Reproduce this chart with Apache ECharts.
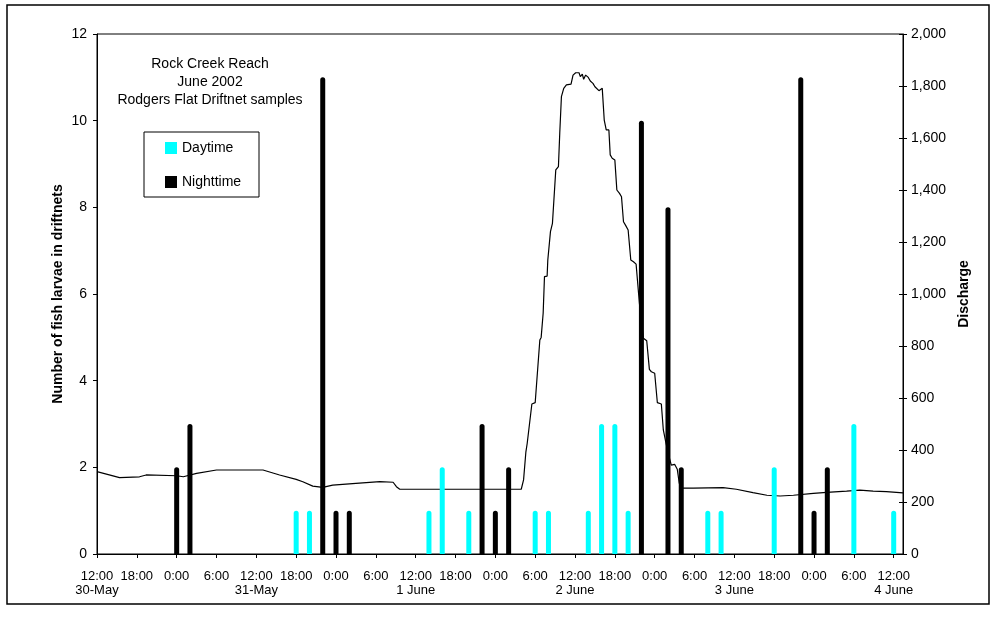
<!DOCTYPE html>
<html>
<head>
<meta charset="utf-8">
<script src="https://cdn.jsdelivr.net/npm/echarts@6/dist/echarts.min.js"></script>
<style>
  html, body { margin: 0; padding: 0; background: #fff; }
  #chart { width: 997px; height: 626px; }
</style>
</head>
<body>
<div id="chart"></div>
<script>
// Hours counted from 30 May 2002, 12:00
const dayHours = [30, 32, 50, 52, 56, 66, 68, 74, 76, 78, 80, 92, 94, 102, 114, 120];
const dayCounts = [1, 1, 1, 2, 1, 1, 1, 1, 3, 3, 1, 1, 1, 2, 3, 1];

const nightHours = [12, 14, 34, 36, 38, 58, 60, 62, 82, 86, 88, 106, 108, 110];
const nightCounts = [2, 3, 11, 1, 1, 3, 1, 2, 10, 8, 2, 11, 1, 2];

// Discharge record
const flowHours = [0, 3.4, 6.4, 7.4, 12, 13, 15, 18, 25, 27.5, 30, 31, 32.5, 34, 35.5, 39, 42.6, 44.6, 45.1, 45.6,
  63.9, 64.25, 64.6, 64.8, 65.1, 65.5, 66.0, 66.3, 66.7, 66.9, 67.2, 67.4, 67.8, 67.9, 68.3, 68.6, 69.1, 69.5, 69.7, 69.95,
  70.3, 70.7, 71.4, 71.7, 72.1, 72.3, 72.6, 72.8, 73.1, 73.3, 73.6, 74.0, 74.3, 74.7, 75.0, 75.3, 75.6, 75.8, 76.1, 76.4,
  76.7, 77.1, 77.3, 77.6, 78.0, 78.3, 78.7, 79.0, 79.3, 79.6, 80.0, 80.4, 80.8, 81.2, 81.4, 81.7, 82.3, 82.8, 83.2, 83.5,
  84.0, 84.4, 85.0, 85.3, 85.7, 86.1, 86.5, 87.0, 87.4, 87.7, 88.1, 89.8, 94.3, 96.3, 98.8, 100.9, 102.9, 104.9, 107.9,
  109.9, 112.9, 114.9, 116.9, 118.9, 121.4];
const flowValues = [317, 294, 297, 304, 301, 297, 310, 323, 323, 304, 287, 278, 261, 256, 265, 272, 278, 276, 259, 249,
  249, 285, 393, 426, 432, 577, 582, 586, 823, 833, 926, 1067, 1069, 1131, 1240, 1272, 1477, 1490, 1618, 1759,
  1791, 1804, 1807, 1842, 1851, 1846, 1851, 1836, 1846, 1826, 1842, 1833, 1819, 1810, 1797, 1800, 1782, 1787, 1791, 1669,
  1631, 1631, 1535, 1522, 1515, 1400, 1387, 1374, 1278, 1265, 1246, 1131, 1124, 1115, 1054, 964, 830, 820, 710, 701,
  695, 582, 577, 477, 426, 380, 342, 345, 326, 272, 253, 253, 255, 249, 236, 226, 223, 226, 233,
  237, 242, 246, 242, 240, 235];

// Axis tick labels, one per 6-hour step
const xTickLabels = ['12:00\n30-May', '18:00', '0:00', '6:00', '12:00\n31-May', '18:00', '0:00', '6:00',
  '12:00\n1 June', '18:00', '0:00', '6:00', '12:00\n2 June', '18:00', '0:00', '6:00',
  '12:00\n3 June', '18:00', '0:00', '6:00', '12:00\n4 June'];

const pair = (xs, ys) => xs.map((x, i) => [x, ys[i]]);
const FONT = 'Liberation Sans, Arial, sans-serif';

const chart = echarts.init(document.getElementById('chart'), null, { renderer: 'canvas' });

const yLeftCommon = { min: 0, max: 12, interval: 2 };
const yRightCommon = { min: 0, max: 2000, interval: 200 };

chart.setOption({
  animation: false,
  backgroundColor: '#fff',
  textStyle: { fontFamily: FONT },
  grid: { left: 97, right: 94, top: 34, bottom: 72, show: true, borderColor: '#000', borderWidth: 1, backgroundColor: 'transparent' },
  legend: {
    orient: 'vertical', left: 165, top: 141, padding: 0, itemWidth: 12, itemHeight: 12, itemGap: 20,
    icon: 'rect', data: ['Daytime', 'Nighttime'],
    textStyle: { fontSize: 14, color: '#000', fontFamily: FONT }
  },
  xAxis: {
    type: 'value', min: 0, max: 121.4, interval: 6,
    axisLine: { lineStyle: { color: '#000', width: 1 } },
    axisTick: { show: true, length: 4, lineStyle: { color: '#000' } },
    splitLine: { show: false },
    axisLabel: {
      color: '#000', fontSize: 13, fontFamily: FONT, margin: 15, lineHeight: 14,
      showMaxLabel: false,
      formatter: v => {
        const i = Math.round(v / 6);
        return Math.abs(v - i * 6) < 1e-6 && xTickLabels[i] !== undefined ? xTickLabels[i] : '';
      }
    }
  },
  yAxis: [
    Object.assign({
      type: 'value', position: 'left',
      name: 'Number of fish larvae in driftnets', nameLocation: 'middle', nameGap: 32, nameRotate: 90,
      nameMoveOverlap: false,
      nameTextStyle: { fontSize: 14, fontWeight: 'bold', color: '#000', fontFamily: FONT },
      axisLine: { show: true, lineStyle: { color: '#000' } },
      axisTick: { show: true, length: 4, lineStyle: { color: '#000' } },
      splitLine: { show: false },
      axisLabel: { color: '#000', fontSize: 14, fontFamily: FONT, margin: 10 }
    }, yLeftCommon),
    Object.assign({
      type: 'value', position: 'right',
      name: 'Discharge', nameLocation: 'middle', nameGap: 54, nameRotate: 90,
      nameMoveOverlap: false,
      nameTextStyle: { fontSize: 14, fontWeight: 'bold', color: '#000', fontFamily: FONT },
      axisLine: { show: true, lineStyle: { color: '#000' } },
      axisTick: { show: true, length: 4, lineStyle: { color: '#000' } },
      splitLine: { show: false },
      axisLabel: { color: '#000', fontSize: 14, fontFamily: FONT, margin: 8, formatter: v => v.toLocaleString('en-US') }
    }, yRightCommon),
    // inner half of the crossing ticks on the discharge axis
    Object.assign({
      type: 'value', position: 'right',
      axisLine: { show: false },
      axisTick: { show: true, inside: true, length: 4, lineStyle: { color: '#000' } },
      splitLine: { show: false },
      axisLabel: { show: false }
    }, yRightCommon)
  ],
  series: [
    {
      name: 'Discharge', type: 'line', yAxisIndex: 1, showSymbol: false, symbol: 'none',
      lineStyle: { color: '#000', width: 1.2 }, data: pair(flowHours, flowValues), z: 1
    },
    {
      name: 'Daytime', type: 'bar', yAxisIndex: 0, barWidth: 5, barGap: '-100%',
      itemStyle: { color: '#00FFFF', borderRadius: [2.5, 2.5, 0, 0] },
      data: pair(dayHours, dayCounts), z: 3
    },
    {
      name: 'Nighttime', type: 'bar', yAxisIndex: 0, barWidth: 5, barGap: '-100%',
      itemStyle: { color: '#000', borderRadius: [2.5, 2.5, 0, 0] },
      data: pair(nightHours, nightCounts), z: 3
    }
  ],
  graphic: [
    { type: 'rect', x: 7, y: 5, shape: { width: 982, height: 599 }, style: { fill: 'none', stroke: '#000', lineWidth: 1.5 }, silent: true },
    { type: 'rect', x: 144, y: 132, shape: { width: 115, height: 65 }, style: { fill: 'none', stroke: '#000', lineWidth: 1 }, silent: true },
    {
      type: 'text', x: 210, y: 55, silent: true,
      style: {
        text: 'Rock Creek Reach\nJune 2002\nRodgers Flat Driftnet samples',
        textAlign: 'center', textVerticalAlign: 'top', fill: '#000', font: '14px ' + FONT, lineHeight: 18
      }
    }
  ]
});
</script>
</body>
</html>
